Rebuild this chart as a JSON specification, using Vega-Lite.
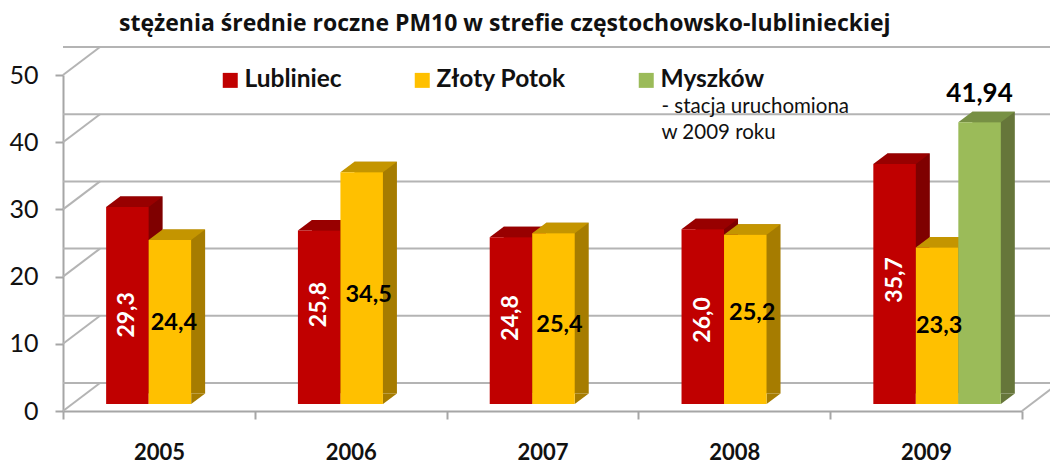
{
"$schema":"https://vega.github.io/schema/vega-lite/v6.json",
"width":959,"height":336,
"autosize":"none",
"padding":{"left":63,"top":75,"right":28,"bottom":52},
"background":"white",
"view":{"stroke":null},
"title":{"text":"stężenia średnie roczne PM10 w strefie częstochowsko-lublinieckiej","font":"Open Sans","fontSize":23,"fontWeight":"bold","color":"#111111","anchor":"start","frame":"group","dx":56,"offset":10},
"data":{"values":[
{"year":"2005","series":"Lubliniec","value":29.3,"label":"29,3"},
{"year":"2005","series":"Złoty Potok","value":24.4,"label":"24,4"},
{"year":"2006","series":"Lubliniec","value":25.8,"label":"25,8"},
{"year":"2006","series":"Złoty Potok","value":34.5,"label":"34,5"},
{"year":"2007","series":"Lubliniec","value":24.8,"label":"24,8"},
{"year":"2007","series":"Złoty Potok","value":25.4,"label":"25,4"},
{"year":"2008","series":"Lubliniec","value":26.0,"label":"26,0"},
{"year":"2008","series":"Złoty Potok","value":25.2,"label":"25,2"},
{"year":"2009","series":"Lubliniec","value":35.7,"label":"35,7"},
{"year":"2009","series":"Złoty Potok","value":23.3,"label":"23,3"},
{"year":"2009","series":"Myszków","value":41.94,"label":"41,94"}
]},
"resolve":{"scale":{"x":"independent","y":"independent","xOffset":"independent"},"axis":{"x":"independent","y":"independent"}},
"layer":[
{"data":{"values":[{"v":0},{"v":10},{"v":20},{"v":30},{"v":40},{"v":50}]},
 "layer":[
 {"mark":{"type":"rule","color":"#b4b4b4","strokeWidth":2,"xOffset":37,"x2Offset":37,"yOffset":-28,"y2Offset":-28},
  "encoding":{"y":{"field":"v","type":"quantitative","scale":{"domain":[0,50],"nice":false},
   "axis":{"values":[0,10,20,30,40,50],"grid":false,"domainColor":"#a6a6a6","domainWidth":2,"tickColor":"#a6a6a6","tickWidth":2,"tickSize":8,"labelFont":"Lato","labelFontSize":25,"labelColor":"#111111","labelPadding":17,"title":null}}}},
 {"mark":{"type":"rule","color":"#b4b4b4","strokeWidth":2,"x2Offset":37,"y2Offset":-28},
  "encoding":{"y":{"field":"v","type":"quantitative"},"y2":{"field":"v"},
   "x":{"datum":0,"type":"quantitative","scale":{"domain":[0,5]},"axis":null},"x2":{"datum":0}}},
 {"transform":[{"filter":"datum.v===0"}],"mark":{"type":"rule","color":"#b4b4b4","strokeWidth":2,"x2Offset":37,"y2Offset":-28},
  "encoding":{"y":{"field":"v","type":"quantitative"},"y2":{"field":"v"},
   "x":{"datum":5,"type":"quantitative","scale":{"domain":[0,5]},"axis":null},"x2":{"datum":5}}}
 ]},
{"mark":{"type":"rule","opacity":0},
 "encoding":{"x":{"field":"year","type":"nominal","sort":null,
   "scale":{"domain":["2005","2006","2007","2008","2009"],"paddingInner":0,"paddingOuter":0},
   "axis":{"title":null,"labelAngle":0,"labelFont":"Lato","labelFontWeight":"bold","labelFontSize":22,"labelColor":"#111111","labelPadding":23,"tickBand":"extent","tickColor":"#a6a6a6","tickWidth":2,"tickSize":8,"domainColor":"#a6a6a6","domainWidth":2}}}},
{"mark":{"type":"bar"},
 "encoding":{
  "x":{"field":"year","type":"nominal","sort":null,"scale":{"domain":["2005","2006","2007","2008","2009"],"paddingInner":0.335,"paddingOuter":0.1675,"range":[25,984]},"axis":null},
  "xOffset":{"field":"series","type":"nominal","sort":null,"scale":{"domain":["Lubliniec","Złoty Potok","Myszków"],"range":[0,127.5]}},
  "y":{"field":"value","type":"quantitative","stack":null,"scale":{"domain":[0,50],"nice":false,"range":[318.5,-17.5]},"axis":null},
  "fill":{"condition":[{"test":"datum.series==='Lubliniec'","value":"#7f0000"},{"test":"datum.series==='Złoty Potok'","value":"#a67c00"}],"value":"#66763a"}}},
{"encoding":{
  "x":{"field":"year","type":"nominal","sort":null,"scale":{"domain":["2005","2006","2007","2008","2009"],"paddingInner":0.335,"paddingOuter":0.1675,"range":[11,970]},"axis":null},
  "xOffset":{"field":"series","type":"nominal","sort":null,"scale":{"domain":["Lubliniec","Złoty Potok","Myszków"],"range":[0,127.5]}}
 },
 "layer":[
 {"mark":{"type":"point","filled":true,"opacity":1,"size":4,"shape":"M-21.3,0L21.3,0L35.3,-10.5L-7.3,-10.5Z"},
  "encoding":{"y":{"field":"value","type":"quantitative","scale":{"domain":[0,50],"nice":false,"range":[329,-7]},"axis":null},
   "fill":{"condition":[{"test":"datum.series==='Lubliniec'","value":"#980000"},{"test":"datum.series==='Złoty Potok'","value":"#c49500"}],"value":"#779044"}}},
 {"mark":{"type":"point","filled":true,"opacity":1,"size":4,"shape":"M21.3,0L35.3,-10.5L21.3,-10.5Z"},
  "encoding":{"y":{"datum":0,"type":"quantitative"},
   "fill":{"condition":[{"test":"datum.series==='Lubliniec'","value":"#7f0000"},{"test":"datum.series==='Złoty Potok'","value":"#a67c00"}],"value":"#66763a"}}},
 {"mark":{"type":"bar"},
  "encoding":{"y":{"field":"value","type":"quantitative","stack":null},
   "fill":{"field":"series","type":"nominal","sort":null,
    "scale":{"domain":["Lubliniec","Złoty Potok","Myszków"],"range":["#c00000","#ffc000","#9bbb59"]},
    "legend":{"title":null,"orient":"none","legendX":155,"legendY":-7,"direction":"horizontal","columns":3,"symbolType":"square","symbolSize":225,"symbolStrokeWidth":0,"symbolOpacity":1,"labelFont":"Lato","labelFontWeight":"bold","labelFontSize":24.5,"labelColor":"#111111","labelOffset":2,"columnPadding":68,"padding":0,"labelLimit":300}}}}
 ]},
{"encoding":{
  "x":{"field":"year","type":"nominal","sort":null,"scale":{"domain":["2005","2006","2007","2008","2009"],"paddingInner":0.335,"paddingOuter":0.1675,"range":[11,970]},"axis":null},
  "xOffset":{"field":"series","type":"nominal","sort":null,"scale":{"domain":["Lubliniec","Złoty Potok","Myszków"],"range":[0,127.5]}},
  "text":{"field":"label"}
 },
 "layer":[
 {"transform":[{"filter":"datum.label==='29,3'"}],"mark":{"type":"text","angle":270,"font":"Lato","fontWeight":"bold","fontSize":23,"color":"white"},"encoding":{"y":{"datum":14.3,"type":"quantitative","scale":{"domain":[0,50],"nice":false},"axis":null}}},
 {"transform":[{"filter":"datum.label==='25,8'"}],"mark":{"type":"text","angle":270,"font":"Lato","fontWeight":"bold","fontSize":23,"color":"white"},"encoding":{"y":{"datum":15.85,"type":"quantitative"}}},
 {"transform":[{"filter":"datum.label==='24,8'"}],"mark":{"type":"text","angle":270,"font":"Lato","fontWeight":"bold","fontSize":23,"color":"white"},"encoding":{"y":{"datum":13.85,"type":"quantitative"}}},
 {"transform":[{"filter":"datum.label==='26,0'"}],"mark":{"type":"text","angle":270,"font":"Lato","fontWeight":"bold","fontSize":23,"color":"white"},"encoding":{"y":{"datum":13.55,"type":"quantitative"}}},
 {"transform":[{"filter":"datum.label==='35,7'"}],"mark":{"type":"text","angle":270,"font":"Lato","fontWeight":"bold","fontSize":23,"color":"white"},"encoding":{"y":{"datum":19.5,"type":"quantitative"}}},
 {"transform":[{"filter":"datum.label==='24,4'"}],"mark":{"type":"text","dx":4,"font":"Lato","fontWeight":"bold","fontSize":23.5,"color":"black"},"encoding":{"y":{"datum":13.1,"type":"quantitative"}}},
 {"transform":[{"filter":"datum.label==='34,5'"}],"mark":{"type":"text","dx":7,"font":"Lato","fontWeight":"bold","fontSize":23.5,"color":"black"},"encoding":{"y":{"datum":17.25,"type":"quantitative"}}},
 {"transform":[{"filter":"datum.label==='25,4'"}],"mark":{"type":"text","dx":6,"font":"Lato","fontWeight":"bold","fontSize":23.5,"color":"black"},"encoding":{"y":{"datum":12.8,"type":"quantitative"}}},
 {"transform":[{"filter":"datum.label==='25,2'"}],"mark":{"type":"text","dx":7,"font":"Lato","fontWeight":"bold","fontSize":23.5,"color":"black"},"encoding":{"y":{"datum":14.6,"type":"quantitative"}}},
 {"transform":[{"filter":"datum.label==='23,3'"}],"mark":{"type":"text","dx":2,"font":"Lato","fontWeight":"bold","fontSize":23.5,"color":"black"},"encoding":{"y":{"datum":12.65,"type":"quantitative"}}},
 {"transform":[{"filter":"datum.label==='41,94'"}],"mark":{"type":"text","font":"Lato","fontWeight":"bold","fontSize":26,"color":"black"},"encoding":{"y":{"datum":47.2,"type":"quantitative"}}}
 ]},
{"data":{"values":[{"note":"- stacja uruchomiona","pos":3.12,"level":45.3},{"note":"w 2009 roku","pos":3.12,"level":41.4}]},
 "mark":{"type":"text","align":"left","font":"Lato","fontSize":20.5,"color":"#111111"},
 "encoding":{"x":{"field":"pos","type":"quantitative","scale":{"domain":[0,5]},"axis":null},"y":{"field":"level","type":"quantitative","scale":{"domain":[0,50],"nice":false},"axis":null},"text":{"field":"note"}}}
]
}
